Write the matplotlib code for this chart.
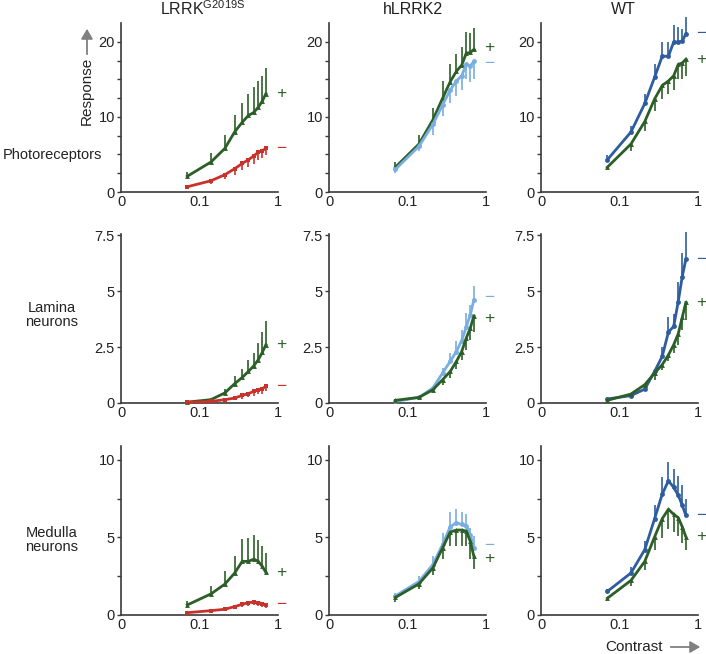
import matplotlib
matplotlib.use("Agg")
import matplotlib.pyplot as plt
from matplotlib.ticker import FixedLocator, NullFormatter
import numpy as np

plt.rcParams['font.family'] = ['Liberation Sans', 'DejaVu Sans']
plt.rcParams['mathtext.fontset'] = 'custom'
plt.rcParams['mathtext.rm'] = 'Liberation Sans'

contrast = [0.07, 0.14, 0.21, 0.28, 0.35, 0.42, 0.49, 0.56, 0.63, 0.70]

col_titles = ["LRRK$^{\\mathrm{G2019S}}$", "hLRRK2", "WT"]
row_titles = ["Photoreceptors", "Lamina\nneurons", "Medulla\nneurons"]

GREEN = "#2c5e27"
RED = "#c8322b"
LBLUE = "#78aee0"
BLUE = "#2d5d9f"

# ---- Row 1: Photoreceptors ----
pr_lrrk_plus = [2.1, 4.0, 5.8, 8.0, 9.3, 10.2, 10.6, 11.3, 12.1, 13.1]
pr_lrrk_plus_err = [0.5, 1.2, 1.8, 2.3, 2.6, 2.9, 3.4, 3.5, 3.4, 3.4]
pr_lrrk_minus = [0.7, 1.5, 2.3, 3.1, 3.8, 4.3, 4.8, 5.3, 5.5, 5.8]
pr_lrrk_minus_err = [0.3, 0.4, 0.6, 0.8, 0.9, 1.0, 1.1, 1.1, 1.0, 0.9]

pr_h_plus = [3.3, 6.4, 9.6, 12.5, 14.7, 16.1, 16.9, 18.5, 18.6, 19.0]
pr_h_plus_err = [0.7, 1.2, 1.6, 2.3, 2.3, 2.3, 2.4, 2.8, 2.6, 2.8]
pr_h_minus = [3.0, 6.1, 9.0, 11.6, 13.6, 14.8, 15.5, 17.0, 16.8, 17.4]
pr_h_minus_err = [0.5, 0.7, 1.4, 1.5, 1.8, 2.0, 1.9, 2.0, 2.2, 2.4]

pr_wt_minus = [4.3, 8.0, 11.8, 15.3, 18.1, 18.1, 20.0, 20.0, 20.1, 21.1]
pr_wt_minus_err = [0.6, 0.8, 1.3, 1.7, 1.9, 1.9, 2.2, 2.0, 1.6, 2.2]
pr_wt_plus = [3.3, 6.4, 9.4, 12.4, 14.2, 14.8, 15.5, 17.0, 17.2, 17.7]
pr_wt_plus_err = [0.3, 1.0, 1.3, 1.6, 1.8, 1.8, 1.9, 2.0, 2.2, 2.3]

# ---- Row 2: Lamina neurons ----
la_lrrk_plus = [0.04, 0.15, 0.45, 0.86, 1.14, 1.41, 1.66, 1.93, 2.26, 2.6]
la_lrrk_plus_err = [0.03, 0.07, 0.19, 0.36, 0.38, 0.49, 0.57, 0.74, 0.9, 1.08]
la_lrrk_minus = [0.03, 0.07, 0.15, 0.22, 0.34, 0.42, 0.52, 0.59, 0.64, 0.74]
la_lrrk_minus_err = [0.02, 0.04, 0.07, 0.1, 0.14, 0.15, 0.2, 0.2, 0.22, 0.22]

la_h_minus = [0.07, 0.25, 0.67, 1.34, 1.86, 2.3, 2.79, 3.39, 3.94, 4.6]
la_h_minus_err = [0.02, 0.05, 0.1, 0.22, 0.37, 0.45, 0.48, 0.62, 0.44, 0.63]
la_h_plus = [0.12, 0.25, 0.59, 1.04, 1.41, 1.86, 2.3, 2.9, 3.34, 3.89]
la_h_plus_err = [0.09, 0.07, 0.11, 0.22, 0.3, 0.34, 0.4, 0.52, 0.52, 0.7]

la_wt_minus = [0.18, 0.33, 0.62, 1.41, 2.08, 3.17, 3.42, 4.53, 5.65, 6.42]
la_wt_minus_err = [0.04, 0.09, 0.12, 0.11, 0.42, 0.66, 0.55, 0.89, 1.07, 1.23]
la_wt_plus = [0.12, 0.4, 0.82, 1.34, 1.71, 2.15, 2.6, 3.09, 3.83, 4.49]
la_wt_plus_err = [0.09, 0.1, 0.15, 0.3, 0.22, 0.29, 0.37, 0.49, 0.56, 0.78]

# ---- Row 3: Medulla neurons ----
me_lrrk_plus = [0.65, 1.36, 1.99, 2.7, 3.46, 3.46, 3.6, 3.46, 3.14, 2.75]
me_lrrk_plus_err = [0.25, 0.48, 0.82, 1.13, 1.45, 1.48, 1.53, 1.37, 1.3, 1.25]
me_lrrk_minus = [0.15, 0.28, 0.37, 0.54, 0.69, 0.8, 0.82, 0.8, 0.74, 0.65]
me_lrrk_minus_err = [0.05, 0.1, 0.12, 0.18, 0.2, 0.2, 0.2, 0.2, 0.2, 0.2]

me_h_minus = [1.23, 2.16, 3.25, 4.55, 5.69, 5.95, 5.84, 5.74, 5.19, 4.33]
me_h_minus_err = [0.18, 0.37, 0.58, 0.75, 0.96, 0.91, 0.81, 0.75, 0.44, 0.76]
me_h_plus = [1.13, 2.01, 3.03, 4.33, 5.35, 5.48, 5.48, 5.41, 4.76, 3.79]
me_h_plus_err = [0.26, 0.34, 0.43, 0.72, 0.91, 1.0, 1.0, 0.97, 1.15, 0.82]

me_wt_minus = [1.52, 2.71, 4.22, 6.21, 7.79, 8.66, 8.23, 7.73, 7.08, 6.43]
me_wt_minus_err = [0.17, 0.36, 0.54, 0.87, 1.08, 1.23, 1.19, 1.21, 1.3, 1.04]
me_wt_plus = [1.08, 2.23, 3.46, 5.04, 6.21, 6.82, 6.49, 6.28, 5.69, 5.04]
me_wt_plus_err = [0.11, 0.39, 0.58, 0.86, 1.23, 1.3, 1.14, 1.19, 1.04, 0.86]

# (values, err, color, marker, label, bars_up)
panels = [
    [
        [(pr_lrrk_plus, pr_lrrk_plus_err, GREEN, '^', '+', True),
         (pr_lrrk_minus, pr_lrrk_minus_err, RED, 's', '\u2212', False)],
        [(pr_h_plus, pr_h_plus_err, GREEN, '^', '+', True),
         (pr_h_minus, pr_h_minus_err, LBLUE, 'o', '\u2212', False)],
        [(pr_wt_minus, pr_wt_minus_err, BLUE, 'o', '\u2212', True),
         (pr_wt_plus, pr_wt_plus_err, GREEN, '^', '+', False)],
    ],
    [
        [(la_lrrk_plus, la_lrrk_plus_err, GREEN, '^', '+', True),
         (la_lrrk_minus, la_lrrk_minus_err, RED, 's', '\u2212', False)],
        [(la_h_minus, la_h_minus_err, LBLUE, 'o', '\u2212', True),
         (la_h_plus, la_h_plus_err, GREEN, '^', '+', False)],
        [(la_wt_minus, la_wt_minus_err, BLUE, 'o', '\u2212', True),
         (la_wt_plus, la_wt_plus_err, GREEN, '^', '+', False)],
    ],
    [
        [(me_lrrk_plus, me_lrrk_plus_err, GREEN, '^', '+', True),
         (me_lrrk_minus, me_lrrk_minus_err, RED, 's', '\u2212', False)],
        [(me_h_minus, me_h_minus_err, LBLUE, 'o', '\u2212', True),
         (me_h_plus, me_h_plus_err, GREEN, '^', '+', False)],
        [(me_wt_minus, me_wt_minus_err, BLUE, 'o', '\u2212', True),
         (me_wt_plus, me_wt_plus_err, GREEN, '^', '+', False)],
    ],
]

W, H = 706, 654
fig = plt.figure(figsize=(W / 100, H / 100), dpi=100)

col_left = [121, 329, 541]
col_w = 157
row_bottom = [192, 403, 615]
row_h = 169
ylims = [22.53, 7.55, 10.9]
ymajor = [[0, 10, 20], [0, 2.5, 5, 7.5], [0, 5, 10]]
yminor = [[2.5, 5, 7.5, 12.5, 15, 17.5], [], [2.5, 7.5]]
ylabels = [["0", "10", "20"], ["0", "2.5", "5", "7.5"], ["0", "5", "10"]]

AX_COL = "#3a3a3a"

for r in range(3):
    for c in range(3):
        ax = fig.add_axes([col_left[c] / W, 1 - row_bottom[r] / H, col_w / W, row_h / H])
        ax.set_xscale('log')
        ax.set_xlim(0.01, 1)
        ax.set_ylim(0, ylims[r])
        for side in ['top', 'right']:
            ax.spines[side].set_visible(False)
        for side in ['left', 'bottom']:
            ax.spines[side].set_color(AX_COL)
            ax.spines[side].set_linewidth(1.2)
        ax.xaxis.set_major_locator(FixedLocator([0.01, 0.1, 1]))
        ax.xaxis.set_minor_locator(FixedLocator([]))
        ax.set_xticklabels(["0", "0.1", "1"])
        ax.yaxis.set_major_locator(FixedLocator(ymajor[r]))
        ax.yaxis.set_minor_locator(FixedLocator(yminor[r]))
        ax.yaxis.set_minor_formatter(NullFormatter())
        ax.set_yticklabels(ylabels[r])
        ax.tick_params(axis='both', which='major', labelsize=10.5, color=AX_COL,
                       labelcolor='#222222', length=3, width=1, pad=1.5)
        ax.tick_params(axis='y', which='minor', color=AX_COL, length=3, width=1)
        ax.tick_params(axis='x', which='major', length=0, pad=2)
        ax.patch.set_alpha(0)

        for k, (vals, err, color, marker, lab, up) in enumerate(panels[r][c]):
            e = np.array(err)
            z = np.zeros_like(e)
            yerr = [z, e] if up else [e, z]
            ax.errorbar(contrast, vals, yerr=yerr, color=color, lw=2,
                        marker=marker, ms=3.5, mew=0, elinewidth=1.2,
                        capsize=2, capthick=1.2, clip_on=False, zorder=3)
            dy = 1.5 if (c == 1 and k == 0) else (-1.5 if c == 1 else 0)
            ax.annotate(lab, xy=(1, vals[-1]), xycoords=('axes fraction', 'data'),
                        xytext=(2, dy), textcoords='offset points',
                        color=color, fontsize=12.5, ha='center', va='center',
                        annotation_clip=False)

# column titles
title_x = [203, 413, 623]
for c in range(3):
    fig.text(title_x[c] / W, 1 - 9 / H, col_titles[c], ha='center', va='center',
             fontsize=11.5, color='#222222')

# row titles
row_y = [155, 315, 540]
for r in range(3):
    fig.text(52 / W, 1 - row_y[r] / H, row_titles[r], ha='center', va='center',
             fontsize=10.5, color='#222222', linespacing=1.0)

# Response label and arrow
fig.text(87 / W, 1 - 91 / H, "Response", rotation=90, ha='center', va='center',
         fontsize=11, color='#222222')
fig.add_artist(matplotlib.patches.FancyArrowPatch(
    (87 / W, 1 - 57 / H), (87 / W, 1 - 26 / H), transform=fig.transFigure,
    arrowstyle='-|>,head_length=6,head_width=3.5', color='#808080', lw=1.3))

# Contrast label and arrow
fig.text(634 / W, 1 - 647 / H, "Contrast", ha='center', va='center',
         fontsize=11, color='#222222')
fig.add_artist(matplotlib.patches.FancyArrowPatch(
    (668 / W, 1 - 647 / H), (703 / W, 1 - 647 / H), transform=fig.transFigure,
    arrowstyle='-|>,head_length=6,head_width=3.5', color='#808080', lw=1.3))

fig.savefig("out.png", dpi=100)
